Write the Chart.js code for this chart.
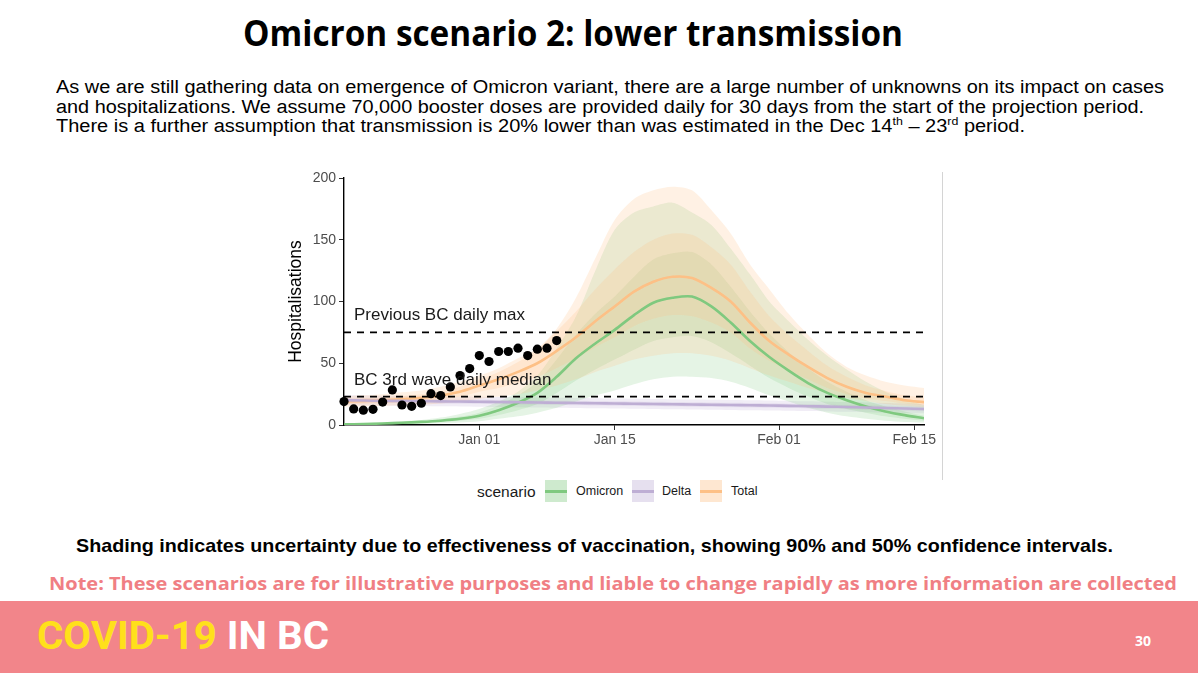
<!DOCTYPE html>
<html><head><meta charset="utf-8">
<script src="https://cdn.jsdelivr.net/npm/chart.js@4.4.0/dist/chart.umd.min.js"></script>
<style>
html,body{margin:0;padding:0;background:#fff;width:1198px;height:673px;overflow:hidden;position:relative;font-family:"Liberation Sans",Arial,sans-serif;}
.abs{position:absolute;white-space:nowrap;line-height:1;transform-origin:left top;}
#title{font-family:"Open Sans",sans-serif;font-weight:700;font-size:36px;left:243px;top:15px;color:#000;}
.body{font-size:18.8px;left:56px;color:#000;}
sup{font-size:0.62em;vertical-align:0;position:relative;top:-0.6em;line-height:0;}
#shade{font-weight:700;font-size:18.6px;left:76px;top:537px;color:#000;}
#note{font-family:"Open Sans",sans-serif;font-weight:700;font-size:18.5px;left:49px;top:574px;color:#F07F84;}
#footer{position:absolute;left:0;top:601px;width:1198px;height:72px;background:#F2858A;}
#brand{font-family:Roboto,sans-serif;font-weight:700;font-size:39px;left:37px;top:617px;color:#fff;}
#brand .y{color:#FFE01B;}
#page{font-family:"Open Sans",sans-serif;font-weight:700;font-size:14px;left:1135px;top:634px;color:#fff;}
#chartWrap{position:absolute;left:282px;top:160px;width:662px;height:300px;}
#sep{position:absolute;left:942px;top:172px;width:1px;height:308px;background:#d4d4d4;}
.lg{position:absolute;white-space:nowrap;line-height:1;color:#1a1a1a;}
.key{position:absolute;width:22px;height:22px;top:480px;}
.key i{position:absolute;left:0;right:0;top:10px;height:2.5px;}
</style>
</head>
<body>
<div id="title" class="abs" data-w="660">Omicron scenario 2: lower transmission</div>
<div class="abs body" style="top:78px" data-w="1108">As we are still gathering data on emergence of Omicron variant, there are a large number of unknowns on its impact on cases</div>
<div class="abs body" style="top:97.5px" data-w="1088">and hospitalizations. We assume 70,000 booster doses are provided daily for 30 days from the start of the projection period.</div>
<div class="abs body" style="top:117px" data-w="969">There is a further assumption that transmission is 20% lower than was estimated in the Dec 14<sup>th</sup> – 23<sup>rd</sup> period.</div>

<div id="chartWrap"><canvas id="c" width="662" height="300"></canvas></div>
<div id="sep"></div>

<div class="lg" style="left:477px;top:484px;font-size:15.5px">scenario</div>
<div class="key" style="left:545px;background:rgba(127,201,127,0.38)"><i style="background:#7FC97F"></i></div>
<div class="lg" style="left:576px;top:485px;font-size:12.5px">Omicron</div>
<div class="key" style="left:632px;background:rgba(190,174,212,0.38)"><i style="background:#BEAED4"></i></div>
<div class="lg" style="left:662px;top:485px;font-size:12.5px">Delta</div>
<div class="key" style="left:700px;background:rgba(253,192,134,0.38)"><i style="background:#FDC086"></i></div>
<div class="lg" style="left:731px;top:485px;font-size:12.5px">Total</div>

<div id="shade" class="abs" data-w="1037">Shading indicates uncertainty due to effectiveness of vaccination, showing 90% and 50% confidence intervals.</div>
<div id="note" class="abs" data-w="1128">Note: These scenarios are for illustrative purposes and liable to change rapidly as more information are collected</div>
<div id="footer"></div>
<div id="brand" class="abs" data-w="292"><span class="y">COVID-19</span> IN BC</div>
<div id="page" class="abs">30</div>

<script>
// ---- data (day 0 = Jan 01) ----
const days = [-14,-12,-10,-8,-6,-4,-2,0,2,4,6,8,10,12,14,16,18,20,22,24,26,28,30,32,34,36,38,40,42,44,46];

const omicronMed  = [0.5,0.8,1.2,1.8,2.5,3.5,5,7.5,12,18,26,39,54,66,77,89,99,103,104,96,83,68,55,44,34,26,20,15,11,8,5.5];
const omicronLo90 = [0,0.2,0.4,0.6,1,1.5,2,3,5,7,10,14,19,24,28,33,37,39,39,38,35,30,24,19,14,10,7,5,3.5,2.5,2];
const omicronLo50 = [0.3,0.5,0.8,1.2,1.7,2.4,3.4,5,8,12,17,26,36,45,53,61,68,71,72,67,58,48,38,30,23,17,13,10,7,5,3.5];
const omicronHi50 = [0.7,1.1,1.6,2.4,3.4,4.7,6.8,10,16,24,35,53,73,90,104,120,134,139,140,130,112,92,74,59,46,35,27,20,15,11,7.5];
const omicronHi90 = [1,1.5,2,3,4,6,9,13,19,27,40,62,88,125,158,172,177,180,172,162,143,122,100,84,69,56,45,35,27,21,16];

const deltaMed  = [20,19.8,19.6,19.5,19.3,19.1,19,18.8,18.6,18.4,18.2,18,17.8,17.6,17.4,17.2,17,16.8,16.6,16.4,16.2,16,15.8,15.5,15.2,14.9,14.6,14.2,13.8,13.4,13];
const deltaLo90 = [16,15.8,15.6,15.5,15.3,15.1,15,14.8,14.6,14.4,14.2,14,13.8,13.6,13.4,13.2,13,12.8,12.6,12.4,12.2,12,11.8,11.6,11.3,11,10.7,10.4,10.1,9.8,9.5];
const deltaLo50 = [18.2,18,17.8,17.7,17.5,17.3,17.2,17,16.8,16.6,16.4,16.2,16,15.8,15.6,15.4,15.2,15,14.8,14.6,14.4,14.2,14,13.7,13.4,13.1,12.8,12.4,12,11.6,11.2];
const deltaHi50 = [21.8,21.6,21.4,21.3,21.1,20.9,20.8,20.6,20.4,20.2,20,19.8,19.6,19.4,19.2,19,18.8,18.6,18.4,18.2,18,17.8,17.6,17.3,17,16.7,16.4,16,15.6,15.2,14.8];
const deltaHi90 = [24,23.8,23.6,23.5,23.3,23.1,23,22.8,22.6,22.4,22.2,22,21.8,21.6,21.4,21.2,21,20.8,20.6,20.4,20.2,20,19.8,19.5,19.2,18.9,18.6,18.2,17.8,17.4,17];

const totalMed  = [19,19.5,20,21,22,24,27,32,37,43,50,60,71,84,96,108,116,120,119,111,100,83,68,57,47,38,31,26,23,20,18.5];
const totalLo90 = [15,15,15.5,16,16.5,17.5,19,21,23,25,28,32,37,43,48,53,56,58,58,56,52,46,40,35,30,26,22,19.5,17,15.5,14.5];
const totalLo50 = [17,17.3,17.8,18.5,19.3,21,23,27,30,34,39,46,54,63,71,80,86,89,88,83,75,62,52,44,37,30,25,21.5,19.5,17.5,16.3];
const totalHi50 = [21,21.7,22.3,23.5,24.8,27,31,37,43,51,61,76,92,110,126,140,150,155,154,144,130,108,88,73,60,48,39,32,27.5,24,22];
const totalHi90 = [23,24,25,26.5,28,31,35,40,46,54,62,78,103,135,166,183,190,193,190,174,155,130,110,90,73,58,47,40,35,32,30];

const obsDays   = [-14,-13,-12,-11,-10,-9,-8,-7,-6,-5,-4,-3,-2,-1,0,1,2,3,4,5,6,7,8];
const obsValues = [19,13,12,12.7,18.6,28.4,16.2,15.1,17.6,25.4,23.8,30.8,40,45.7,56.2,51.4,59.5,59.5,62.2,56.2,61.4,62.2,68.4];

const refValues = [75,23];
const refLabels = ["Previous BC daily max","BC 3rd wave daily median"];

const xTickDays   = [0,14,31,45];
const xTickLabels = ["Jan 01","Jan 15","Feb 01","Feb 15"];
const yTicks      = [0,50,100,150,200];

// ---- build ----
const pts = arr => arr.map((v,i)=>({x:days[i], y:v}));
const datasets = [];
function addBand(lo, hi, color){
  datasets.push({data:pts(lo), borderWidth:0, borderColor:'transparent', pointRadius:0, fill:false, tension:0.3, order:20});
  datasets.push({data:pts(hi), borderWidth:0, borderColor:'transparent', pointRadius:0, fill:'-1', backgroundColor:color, tension:0.3, order:20});
}
addBand(totalLo90, totalHi90, 'rgba(253,192,134,0.22)');
addBand(totalLo50, totalHi50, 'rgba(253,192,134,0.22)');
addBand(omicronLo90, omicronHi90, 'rgba(127,201,127,0.2)');
addBand(omicronLo50, omicronHi50, 'rgba(127,201,127,0.2)');
addBand(deltaLo90, deltaHi90, 'rgba(190,174,212,0.22)');
addBand(deltaLo50, deltaHi50, 'rgba(190,174,212,0.22)');

const lineDs = (arr,color)=>({data:pts(arr), borderColor:color, borderWidth:2.6, pointRadius:0, fill:false, tension:0.3, order:5});
datasets.push(lineDs(deltaMed,'#BEAED4'));
datasets.push(lineDs(totalMed,'#FDC086'));
datasets.push(lineDs(omicronMed,'#7FC97F'));

refValues.forEach(v=>{
  datasets.push({data:[{x:days[0],y:v},{x:days[days.length-1],y:v}], borderColor:'#000', borderWidth:1.6, borderDash:[7,6], pointRadius:0, fill:false, order:3});
});

datasets.push({data:obsDays.map((d,i)=>({x:d,y:obsValues[i]})), showLine:false, pointRadius:4.6, pointHoverRadius:4.6, pointBackgroundColor:'#000', pointBorderWidth:0, borderColor:'#000', fill:false, clip:false, order:1});

const refText = {
  id:'refText',
  afterDatasetsDraw(chart){
    const {ctx, scales:{x,y}} = chart;
    ctx.save();
    ctx.font = '17px "Liberation Sans", Arial, sans-serif';
    ctx.fillStyle = '#1a1a1a';
    ctx.textBaseline = 'alphabetic';
    refValues.forEach((v,i)=>{
      ctx.fillText(refLabels[i], x.getPixelForValue(days[0]) + 10, y.getPixelForValue(v) - 12);
    });
    ctx.restore();
  }
};

new Chart(document.getElementById('c'), {
  type:'line',
  data:{datasets},
  plugins:[refText],
  options:{
    responsive:false, animation:false, devicePixelRatio:1,
    layout:{padding:{top:18,right:20,left:0,bottom:0}},
    plugins:{legend:{display:false}, tooltip:{enabled:false}, filler:{drawTime:'beforeDatasetsDraw'}},
    scales:{
      x:{type:'linear', min:days[0], max:days[days.length-1],
        afterBuildTicks:s=>{ s.ticks = xTickDays.map(v=>({value:v})); },
        afterFit:s=>{ s.height = 35; },
        border:{display:true,color:'#000',width:1.4},
        grid:{drawOnChartArea:false, drawTicks:true, tickLength:5, tickColor:'#333', color:'#333'},
        ticks:{autoSkip:false, maxRotation:0, padding:2, color:'#4d4d4d', font:{family:'"Liberation Sans", Arial',size:14}},
      },
      y:{type:'linear', min:yTicks[0], max:yTicks[yTicks.length-1],
        afterBuildTicks:s=>{ s.ticks = yTicks.map(v=>({value:v})); },
        afterFit:s=>{ s.width = 62; },
        border:{display:true,color:'#000',width:1.4},
        grid:{drawOnChartArea:false, drawTicks:true, tickLength:5, tickColor:'#333', color:'#333'},
        ticks:{padding:3, color:'#4d4d4d', font:{family:'"Liberation Sans", Arial',size:14}},
        title:{display:true, text:'Hospitalisations', color:'#000', font:{family:'"Liberation Sans", Arial',size:17.5}, padding:{top:4,bottom:4}}
      }
    }
  }
});
// x tick labels from the named arrays
Chart.getChart('c').options.scales.x.ticks.callback = v => { const k = xTickDays.indexOf(v); return k>=0 ? xTickLabels[k] : ''; };
Chart.getChart('c').update('none');

// ---- fit text widths ----
function fit(){
  document.querySelectorAll('[data-w]').forEach(el=>{
    el.style.transform='none';
    const w = el.getBoundingClientRect().width;
    const t = parseFloat(el.dataset.w);
    if (w>0) el.style.transform = 'scaleX(' + (t/w) + ')';
  });
}
fit();
if (document.fonts && document.fonts.ready) document.fonts.ready.then(fit);
</script>
</body></html>
